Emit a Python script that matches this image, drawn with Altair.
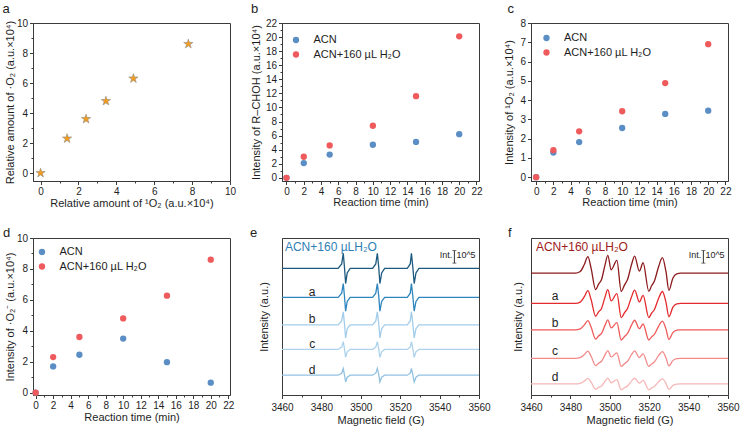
import altair as alt
import pandas as pd

FONT = "Liberation Sans"
INK = "#1e1e1e"
BLUE = "#5b8ec4"
RED = "#ef5b5c"
STAR_FILL = "#f59d1c"
STAR_EDGE = "#8f8a84"

# ---------------- panel a ----------------
a_x = [0, 1.4, 2.4, 3.45, 4.9, 7.8]
a_y = [0, 2.3, 3.6, 4.8, 6.3, 8.6]

# ---------------- panels b, c, d ----------------
times = [0, 2, 5, 10, 15, 20]
series_names = ["ACN", "ACN+160 µL H₂O"]
b_acn = [0, 2.1, 3.3, 4.7, 5.1, 6.2]
b_h2o = [0, 3.0, 4.6, 7.4, 11.6, 20.1]
c_acn = [0, 1.28, 1.82, 2.55, 3.28, 3.45]
c_h2o = [0, 1.4, 2.38, 3.42, 4.88, 6.9]
d_acn = [0, 1.7, 2.45, 3.5, 1.97, 0.65]
d_h2o = [0, 2.3, 3.6, 4.8, 6.27, 8.6]

# ---------------- panels e, f (EPR spectra) ----------------
trace_names = ["top", "a", "b", "c", "d"]
tag_names = ["a", "b", "c", "d"]

e_field = [3460, 3488.5, 3490.3, 3491.1, 3491.7, 3492.3, 3493.1, 3494.6,
           3506.0, 3507.6, 3508.4, 3509.1, 3509.7, 3510.6, 3512.1,
           3523.6, 3525.1, 3525.7, 3526.4, 3527.1, 3528.0, 3529.5, 3560]
e_shape = [0, 0, 0.3, 1.0, 0.1, -1.0, -0.3, 0,
           0, 0.3, 1.0, 0.1, -1.0, -0.3, 0,
           0, 0.3, 1.0, 0.1, -1.0, -0.3, 0, 0]
e_base = [80.6, 62.2, 44.7, 29.0, 12.6]
e_amp = [9.6, 8.8, 8.3, 5.0, 4.3]
e_colors = ["#1d5a80", "#2f86bf", "#a2cdea", "#add3ec", "#93c2e1"]
e_tag_x = 3475.3
e_tag_y = [65.7, 48.2, 32.5, 16.1]

f_field = [3460, 3482.5, 3485, 3487, 3488.9, 3490.5, 3492.8, 3494.3, 3495.8,
           3497.5, 3499.0, 3500.7, 3503.6, 3505.8, 3507.5, 3509.0, 3511.0,
           3512.6, 3515.0, 3516.9, 3519.8, 3521.2, 3522.6, 3524.8, 3526.7,
           3528.5, 3530.0, 3532.0, 3534.0, 3536.0, 3560]
f_shape = [0, 0, 0.1, 0.5, 0.98, 0.3, -0.98, -0.65, -0.38,
           0.45, 1.06, 0.2, 0.76, -1.08, -0.7, -0.38, 0.5,
           1.02, 0.12, 0.62, -1.08, -0.75, -0.48, 0.4, 0.92,
           0.1, -1.02, -0.3, -0.04, 0, 0]
f_base = [77.6, 58.3, 41.5, 23.3, 7.1]
f_amp = [10.7, 8.3, 6.0, 4.7, 3.5]
f_colors = ["#8c1a1c", "#e42a2c", "#ee5a5a", "#f28a8a", "#f6b7b7"]
f_tag_x = 3472.2
f_tag_y = [62.8, 46.0, 27.8, 11.6]

field_ticks = [3460, 3470, 3480, 3490, 3500, 3510, 3520, 3530, 3540, 3550, 3560]

spec_title = "ACN+160 µLH₂O"
e_title_color = "#2f7fb5"
f_title_color = "#9e1c20"
e_bar_x, f_bar_x = 3547.5, 3547.5
bar_y = [92.0, 84.0]

# ---------------- helpers ----------------
def major(step):
    return f"abs(datum.value / {step} - round(datum.value / {step})) < 0.001"


def make_axis(title, values, step, orient, tx, ty, **extra):
    t = major(step)
    kw = dict(
        title=title,
        values=values,
        format="d",
        labelExpr=f"({t}) ? datum.label : ''",
        labelOverlap=False,
        labelFlush=False,
        tickSize={"condition": {"test": t, "value": 3.5}, "value": 2},
        grid=False,
        labelPadding=2,
        titleBaseline="middle",
        titleAlign="center",
        titleX=tx,
        titleY=ty,
    )
    if orient == "left":
        kw["titleAngle"] = -90
    kw.update(extra)
    return alt.Axis(**kw)


def letter(text, px, py):
    return alt.Chart(pd.DataFrame({"t": [text]})).mark_text(
        fontSize=13, color=INK, align="left", baseline="alphabetic").encode(
        text="t:N", x=alt.value(px), y=alt.value(py))


def scatter(acn, h2o, w, h, xdom, ydom, yvals, ystep, ytitle, ytx, xty, leg_xy, let, let_x, let_y):
    df = pd.DataFrame({
        "t": times + times,
        "v": acn + h2o,
        "s": [series_names[0]] * len(times) + [series_names[1]] * len(times),
    })
    legend = alt.Legend(title=None, orient="none", legendX=leg_xy[0], legendY=leg_xy[1],
                        symbolType="circle", symbolSize=40, symbolStrokeWidth=0,
                        labelFontSize=11, labelColor=INK, labelOffset=12, rowPadding=2.5)
    pts = alt.Chart(df).mark_circle(size=40, opacity=1).encode(
        x=alt.X("t:Q", scale=alt.Scale(domain=xdom, nice=False, zero=False),
                axis=make_axis("Reaction time (min)", list(range(0, 23)), 2, "bottom", w / 2, xty)),
        y=alt.Y("v:Q", scale=alt.Scale(domain=ydom, nice=False, zero=False),
                axis=make_axis(ytitle, yvals, ystep, "left", ytx, h / 2)),
        color=alt.Color("s:N", scale=alt.Scale(domain=series_names, range=[BLUE, RED]), legend=legend),
    )
    return alt.layer(pts, letter(let, let_x, let_y)).properties(width=w, height=h)


def spectrum(field, shape, base, amp, colors, tag_x, tag_y, title_x, title_color, bar_x,
             w, h, ytx, let, let_x, let_y, interp):
    rows = []
    for name, b0, a0 in zip(trace_names, base, amp):
        for fx, sh in zip(field, shape):
            rows.append({"field": fx, "y": b0 + a0 * sh, "trace": name})
    df = pd.DataFrame(rows)
    xs = alt.Scale(domain=[3460, 3560], nice=False, zero=False)
    ys = alt.Scale(domain=[0, 100], nice=False, zero=False)
    xaxis = make_axis("Magnetic field (G)", field_ticks, 20, "bottom", w / 2, 25, labelPadding=3.5)
    yaxis = alt.Axis(title="Intensity (a.u.)", labels=False, ticks=False, grid=False,
                     titleBaseline="middle", titleAlign="center", titleAngle=-90,
                     titleX=ytx, titleY=h / 2)

    def X(f):
        return alt.X(f, type="quantitative", scale=xs, axis=xaxis)

    def Y(f):
        return alt.Y(f, type="quantitative", scale=ys, axis=yaxis)

    lines = alt.Chart(df).mark_line(strokeWidth=1.3, interpolate=interp).encode(
        x=X("field"), y=Y("y"),
        color=alt.Color("trace:N", scale=alt.Scale(domain=trace_names, range=colors), legend=None),
        detail="trace:N",
    )
    tags = alt.Chart(pd.DataFrame({"x": [tag_x] * 4, "y": tag_y, "t": tag_names})).mark_text(
        fontSize=12, color=INK, baseline="middle", align="center").encode(
        x=X("x"), y=Y("y"), text="t:N")
    head = alt.Chart(pd.DataFrame({"x": [title_x], "y": [94.0], "t": [spec_title]})).mark_text(
        fontSize=12, color=title_color, baseline="middle", align="left").encode(
        x=X("x"), y=Y("y"), text="t:N")
    bar_df = pd.DataFrame({"x": [bar_x], "y0": [bar_y[0]], "y1": [bar_y[1]]})
    bar = alt.Chart(bar_df).mark_rule(color="#333", strokeWidth=1).encode(
        x=X("x"), y=Y("y0"), y2="y1:Q")
    caps = alt.Chart(pd.DataFrame({"x": [bar_x, bar_x], "y": bar_y})).mark_tick(
        orient="horizontal", size=4, thickness=1, color="#333").encode(
        x=X("x"), y=Y("y"))
    bar_txt = alt.Chart(pd.DataFrame({"x": [bar_x, bar_x], "y": [(bar_y[0] + bar_y[1]) / 2 + 1] * 2,
                                      "t": ["Int.", "10^5"], "al": ["r", "l"]}))
    int_txt = bar_txt.transform_filter("datum.al == 'r'").mark_text(
        fontSize=9, color=INK, align="right", baseline="middle", dx=-2).encode(
        x=X("x"), y=Y("y"), text="t:N")
    pow_txt = bar_txt.transform_filter("datum.al == 'l'").mark_text(
        fontSize=9, color=INK, align="left", baseline="middle", dx=2).encode(
        x=X("x"), y=Y("y"), text="t:N")
    return alt.layer(lines, tags, head, bar, caps, int_txt, pow_txt, letter(let, let_x, let_y)).properties(
        width=w, height=h)


# ---------------- panels ----------------
W, H1, H2 = 197, 158, 157

a_df = pd.DataFrame({"x": a_x, "y": a_y})
stars = alt.Chart(a_df).mark_point(shape="M0,-1L0.2245,-0.309L0.9511,-0.309L0.3633,0.118L0.5878,0.809L0,0.382L-0.5878,0.809L-0.3633,0.118L-0.9511,-0.309L-0.2245,-0.309Z",
                                   filled=True, size=95, fill=STAR_FILL, stroke=STAR_EDGE,
                                   strokeWidth=0.6, opacity=1).encode(
    x=alt.X("x:Q", scale=alt.Scale(domain=[-0.4, 10], nice=False, zero=False),
            axis=make_axis("Relative amount of ¹O₂ (a.u.×10⁴)", list(range(0, 11)), 2, "bottom", W / 2, 22)),
    y=alt.Y("y:Q", scale=alt.Scale(domain=[-0.53, 10], nice=False, zero=False),
            axis=make_axis("Relative amount of ·O₂ (a.u.×10⁴)", list(range(0, 11)), 2, "left", -22.5, H1 / 2)),
)
panel_a = alt.layer(stars, letter("a", -30.5, -10)).properties(width=W, height=H1)

panel_b = scatter(b_acn, b_h2o, W, H1, [-0.52, 22.29], [-0.45, 22], list(range(0, 23)), 2,
                  "Intensity of R–CHOH (a.u.×10⁴)", -25.5, 21.7, (8.5, 11.5), "b", -31, -10)
panel_c = scatter(c_acn, c_h2o, W, H1, [-0.6, 22.3], [-0.2, 8], [i * 0.5 for i in range(0, 17)], 1,
                  "Intensity of ¹O₂ (a.u.×10⁴)", -21.5, 21, (10, 9.5), "c", -23.5, -10)
panel_d = scatter(d_acn, d_h2o, W, H2, [-0.3, 22.2], [-0.15, 10], list(range(0, 11)), 2,
                  "Intensity of ·O₂⁻ (a.u.×10⁴)", -22.5, 22.7, (3.5, 8.5), "d", -30, -1.5)
panel_e = spectrum(e_field, e_shape, e_base, e_amp, e_colors, e_tag_x, e_tag_y, 3461.5, e_title_color,
                   e_bar_x, W, H2, -17.5, "e", -32, -1.5, "linear")
panel_f = spectrum(f_field, f_shape, f_base, f_amp, f_colors, f_tag_x, f_tag_y, 3462.5, f_title_color,
                   f_bar_x, W, H2, -13, "f", -23, -1.5, "monotone")

chart = alt.concat(panel_a, panel_b, panel_c, panel_d, panel_e, panel_f, columns=3,
                   spacing={"row": 57, "column": 52}, bounds="flush").resolve_scale(
    color="independent").resolve_legend(color="independent").properties(
    padding={"left": 2, "top": 2, "right": 0, "bottom": 0}
).configure(font=FONT, background="white").configure_view(
    stroke="#3a3a3a", strokeWidth=1
).configure_axis(
    labelFont=FONT, titleFont=FONT, labelFontSize=10, titleFontSize=11,
    labelColor=INK, titleColor=INK, titleFontWeight="normal",
    domainColor="#3a3a3a", tickColor="#3a3a3a", domainWidth=1, tickWidth=1,
    labelOverlap=False, labelFlush=False,
).configure_legend(labelFont=FONT)

chart.save("out.html", embed_options={"renderer": "svg", "actions": False})
